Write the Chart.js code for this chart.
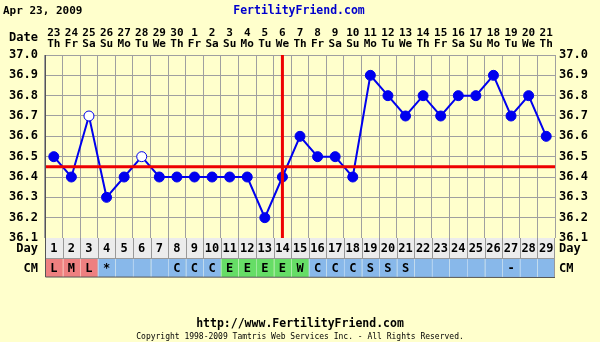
<!DOCTYPE html>
<html>
<head>
<meta charset="utf-8">
<script src="https://cdn.jsdelivr.net/npm/chart.js@4/dist/chart.umd.min.js"></script>
<style>
  html, body { margin: 0; padding: 0; background: #ffffcc; }
</style>
</head>
<body>
<canvas id="bbt" width="600" height="342"></canvas>
<script>
const printDate = 'Apr 23, 2009';
const siteName = 'FertilityFriend.com';
const dates = ['23','24','25','26','27','28','29','30','1','2','3','4','5','6','7','8','9','10','11','12','13','14','15','16','17','18','19','20','21'];
const weekdays = ['Th','Fr','Sa','Su','Mo','Tu','We','Th','Fr','Sa','Su','Mo','Tu','We','Th','Fr','Sa','Su','Mo','Tu','We','Th','Fr','Sa','Su','Mo','Tu','We','Th'];
const cycleDays = [1,2,3,4,5,6,7,8,9,10,11,12,13,14,15,16,17,18,19,20,21,22,23,24,25,26,27,28,29];
const temps = [36.5,36.4,36.7,36.3,36.4,36.5,36.4,36.4,36.4,36.4,36.4,36.4,36.2,36.4,36.6,36.5,36.5,36.4,36.9,36.8,36.7,36.8,36.7,36.8,36.8,36.9,36.7,36.8,36.6];
const openDays = [3, 6];
const cmCodes = ['L','M','L','*','','','','C','C','C','E','E','E','E','W','C','C','C','S','S','S','','','','','','-','',''];
const coverline = 36.45;
const ovulationDay = 14;

const FONT = '"DejaVu Sans Mono", monospace';
const BLUE = '#0000ee';

// colour of a CM cell by code group
const cmColor = (i) => {
  if (i < 3) return '#ee8080';          // menstruation days
  const c = cmCodes[i];
  if (c === 'E' || c === 'W') return '#66dd66';
  return '#88b8ea';
};

const chartDecor = {
  id: 'chartDecor',
  beforeDraw(chart) {
    const ctx = chart.ctx;
    ctx.save();
    ctx.fillStyle = '#ffffcc';
    ctx.fillRect(0, 0, chart.width, chart.height);
    ctx.restore();
  },
  afterDatasetsDraw(chart) {
    const { ctx, chartArea, scales } = chart;
    const y = scales.y.getPixelForValue(coverline);
    const x = scales.x.getPixelForValue(ovulationDay - 1);
    ctx.save();
    ctx.strokeStyle = '#ee0000';
    ctx.lineWidth = 3;
    ctx.beginPath();
    ctx.moveTo(chartArea.left, y);
    ctx.lineTo(chartArea.right, y);
    ctx.moveTo(x, chartArea.top);
    ctx.lineTo(x, chartArea.bottom);
    ctx.stroke();
    ctx.restore();
  },
  afterDraw(chart) {
    const { ctx, chartArea, scales } = chart;
    const xs = scales.x;
    const cw = xs.getPixelForValue(1) - xs.getPixelForValue(0);
    const dayTop = chartArea.bottom, dayBot = dayTop + 20;
    const cmTop = dayBot + 1, cmBot = cmTop + 18;
    ctx.save();

    // header
    ctx.textBaseline = 'middle';
    ctx.font = 'bold 11px ' + FONT;
    ctx.fillStyle = '#000';
    ctx.textAlign = 'left';
    ctx.fillText(printDate, 3, 11);
    ctx.fillStyle = '#0000cc';
    ctx.textAlign = 'center';
    ctx.font = 'bold 11.5px ' + FONT;
    ctx.fillText(siteName, 299, 11);
    ctx.fillStyle = '#000';
    ctx.textAlign = 'right';
    ctx.font = 'bold 12px ' + FONT;
    ctx.fillText('Date', 38, 38);

    // day row + cm row
    ctx.fillStyle = '#ececec';
    ctx.fillRect(chartArea.left, dayTop, chartArea.right - chartArea.left, dayBot - dayTop);
    cycleDays.forEach((d, i) => {
      const cx = xs.getPixelForValue(i);
      ctx.fillStyle = cmColor(i);
      ctx.fillRect(cx - cw / 2, cmTop, cw, cmBot - cmTop);
    });
    ctx.strokeStyle = '#999';
    ctx.lineWidth = 1;
    ctx.beginPath();
    cycleDays.forEach((d, i) => {
      const lx = Math.round(xs.getPixelForValue(i) - cw / 2) + 0.5;
      ctx.moveTo(lx, dayTop);
      ctx.lineTo(lx, dayBot);
    });
    ctx.moveTo(chartArea.right - 0.5, dayTop);
    ctx.lineTo(chartArea.right - 0.5, cmBot);
    ctx.moveTo(chartArea.left, dayBot + 0.5);
    ctx.lineTo(chartArea.right, dayBot + 0.5);
    ctx.stroke();
    ctx.strokeStyle = 'rgba(255,255,255,0.35)';
    ctx.beginPath();
    cycleDays.forEach((d, i) => {
      if (i === 0) return;
      const lx = Math.round(xs.getPixelForValue(i) - cw / 2) + 0.5;
      ctx.moveTo(lx, cmTop);
      ctx.lineTo(lx, cmBot);
    });
    ctx.stroke();
    ctx.strokeStyle = '#555';
    ctx.beginPath();
    ctx.moveTo(chartArea.left + 0.5, chartArea.top);
    ctx.lineTo(chartArea.left + 0.5, cmBot);
    ctx.lineTo(chartArea.right, cmBot + 0.5);
    ctx.stroke();

    ctx.fillStyle = '#000';
    ctx.textAlign = 'center';
    ctx.font = 'bold 12px ' + FONT;
    cycleDays.forEach((d, i) => {
      const cx = xs.getPixelForValue(i);
      ctx.fillText(String(d), cx, (dayTop + dayBot) / 2 + 1);
      if (cmCodes[i]) ctx.fillText(cmCodes[i], cx, (cmTop + cmBot) / 2 + 1);
    });
    ctx.textAlign = 'right';
    ctx.fillText('Day', 38, (dayTop + dayBot) / 2 + 1);
    ctx.fillText('CM', 38, (cmTop + cmBot) / 2 + 1);
    ctx.textAlign = 'left';
    ctx.fillText('Day', 559, (dayTop + dayBot) / 2 + 1);
    ctx.fillText('CM', 559, (cmTop + cmBot) / 2 + 1);

    // footer
    ctx.textAlign = 'center';
    ctx.font = 'bold 11.5px ' + FONT;
    ctx.fillText('http://www.FertilityFriend.com', 300, 324);
    ctx.font = '8px ' + FONT;
    ctx.fillText('Copyright 1998-2009 Tamtris Web Services Inc. - All Rights Reserved.', 300, 337);
    ctx.restore();
  }
};

const tempTicks = {
  min: 36.1,
  max: 37.0,
  ticks: {
    stepSize: 0.1,
    color: '#000',
    font: { family: FONT, size: 12, weight: 'bold' },
    callback: (v) => v.toFixed(1)
  }
};

new Chart(document.getElementById('bbt'), {
  type: 'line',
  data: {
    labels: cycleDays.map((d, i) => [dates[i], weekdays[i]]),
    datasets: [{
      data: temps,
      borderColor: BLUE,
      borderWidth: 2,
      pointRadius: 5,
      pointBorderWidth: 1,
      pointBorderColor: BLUE,
      pointBackgroundColor: cycleDays.map(d => openDays.includes(d) ? '#ffffff' : BLUE),
      tension: 0
    }]
  },
  options: {
    responsive: false,
    animation: false,
    layout: { padding: { left: 0, right: 0, top: 0, bottom: 104 } },
    plugins: { legend: { display: false }, tooltip: { enabled: false } },
    scales: {
      x: {
        position: 'top',
        offset: true,
        afterFit: (s) => { s.height = 55; },
        grid: { offset: true, color: '#a0a0a0', drawTicks: false },
        border: { display: false },
        ticks: {
          autoSkip: false,
          maxRotation: 0,
          padding: 5,
          color: '#000',
          font: { family: FONT, size: 11, weight: 'bold', lineHeight: 1.0 }
        }
      },
      y: {
        ...tempTicks,
        position: 'left',
        afterFit: (s) => { s.width = 45; },
        grid: { color: '#a0a0a0', drawTicks: false },
        border: { display: false },
        ticks: { ...tempTicks.ticks, padding: 7 }
      },
      y2: {
        ...tempTicks,
        position: 'right',
        afterFit: (s) => { s.width = 45; },
        grid: { display: false, drawTicks: false },
        border: { display: false },
        ticks: { ...tempTicks.ticks, padding: 4 }
      }
    }
  },
  plugins: [chartDecor]
});
</script>
</body>
</html>
